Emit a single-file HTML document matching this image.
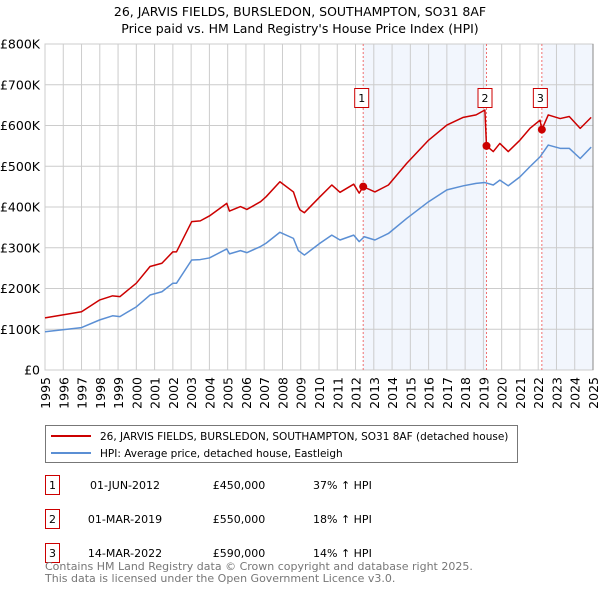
<!DOCTYPE html>
<html><head><meta charset="utf-8"><style>
body{margin:0;background:#fff;font-family:"Liberation Sans","DejaVu Sans",sans-serif;}
svg text{font-family:"DejaVu Sans","Liberation Sans",sans-serif;}
</style></head><body>
<svg id="c" width="600" height="590" viewBox="0 0 600 590">
<text x="300" y="16" text-anchor="middle" font-size="12.5">26, JARVIS FIELDS, BURSLEDON, SOUTHAMPTON, SO31 8AF</text>
<text x="300" y="33" text-anchor="middle" font-size="12.5">Price paid vs. HM Land Registry's House Price Index (HPI)</text>
<g id="plot"></g>
<g>
<rect x="45.5" y="425.5" width="472" height="37" fill="#fff" stroke="#777"/>
<line x1="51" y1="436" x2="91" y2="436" stroke="#cc0000" stroke-width="2"/>
<text x="100" y="440" font-size="10.5">26, JARVIS FIELDS, BURSLEDON, SOUTHAMPTON, SO31 8AF (detached house)</text>
<line x1="51" y1="453" x2="91" y2="453" stroke="#5b8fd4" stroke-width="2"/>
<text x="100" y="457" font-size="10.5">HPI: Average price, detached house, Eastleigh</text>
</g>
<g font-size="11">
<rect x="45.5" y="475.5" width="14" height="19" fill="#fff" stroke="#cc0000"/>
<text x="52.5" y="489" text-anchor="middle">1</text>
<text x="125" y="489" text-anchor="middle">01-JUN-2012</text>
<text x="239" y="489" text-anchor="middle">£450,000</text>
<text x="313" y="489">37% ↑ HPI</text>
<rect x="45.5" y="509.5" width="14" height="19" fill="#fff" stroke="#cc0000"/>
<text x="52.5" y="523" text-anchor="middle">2</text>
<text x="125" y="523" text-anchor="middle">01-MAR-2019</text>
<text x="239" y="523" text-anchor="middle">£550,000</text>
<text x="313" y="523">18% ↑ HPI</text>
<rect x="45.5" y="543.5" width="14" height="19" fill="#fff" stroke="#cc0000"/>
<text x="52.5" y="557" text-anchor="middle">3</text>
<text x="125" y="557" text-anchor="middle">14-MAR-2022</text>
<text x="239" y="557" text-anchor="middle">£590,000</text>
<text x="313" y="557">14% ↑ HPI</text>
</g>
<text x="45" y="570" font-size="11" fill="#777">Contains HM Land Registry data © Crown copyright and database right 2025.</text>
<text x="45" y="582" font-size="11" fill="#777">This data is licensed under the Open Government Licence v3.0.</text>
</svg>
<script>
const yTicks=[0,100,200,300,400,500,600,700,800];
const yTickLabels=["£0","£100K","£200K","£300K","£400K","£500K","£600K","£700K","£800K"];
const xTickYears=[1995,1996,1997,1998,1999,2000,2001,2002,2003,2004,2005,2006,2007,2008,2009,2010,2011,2012,2013,2014,2015,2016,2017,2018,2019,2020,2021,2022,2023,2024,2025];
const hpiYears=[1995.0,1997.0,1998.0,1998.7,1999.1,2000.0,2000.75,2001.4,2002.0,2002.2,2003.03,2003.5,2004.0,2004.95,2005.1,2005.7,2006.05,2006.8,2007.1,2007.86,2008.6,2008.87,2008.96,2009.2,2010.05,2010.7,2011.15,2011.9,2012.2,2012.48,2013.06,2013.8,2014.8,2016.0,2017.0,2017.9,2018.6,2019.08,2019.54,2019.9,2020.36,2021.0,2021.55,2022.1,2022.55,2023.2,2023.7,2024.3,2024.9];
const hpiValues=[94,104,123,133,131,155,184,192,213,213,270,271,275,297,285,293,288,303,311,338,323,293,290,282,311,331,319,331,315,327,319,335,372,413,442,452,458,460,454,466,452,474,499,523,552,544,544,519,547];
const priceYears=[1995.0,1997.0,1998.0,1998.7,1999.1,2000.0,2000.75,2001.4,2002.0,2002.2,2003.03,2003.5,2004.0,2004.95,2005.1,2005.7,2006.05,2006.8,2007.1,2007.86,2008.6,2008.87,2008.96,2009.2,2010.05,2010.7,2011.15,2011.9,2012.2,2012.42,2013.06,2013.8,2014.8,2016.0,2017.0,2017.9,2018.6,2019.08,2019.17,2019.54,2019.9,2020.36,2021.0,2021.55,2022.1,2022.2,2022.55,2023.2,2023.7,2024.3,2024.9];
const priceValues=[128,143,172,182,180,213,254,262,290,290,364,366,378,409,390,401,394,413,425,462,437,401,393,386,425,454,436,456,434,450,437,454,507,564,601,620,626,638,550,536,556,536,564,593,613,590,626,617,622,593,620];
const saleYears=[2012.42,2019.17,2022.2];
const saleValues=[450,550,590];
const saleLabels=["1","2","3"];

const NS="http://www.w3.org/2000/svg";
const X0=45,X1=593,Y0=370,Y1=44;
const xs=y=>X0+(y-1995)/(2025-1995)*(X1-X0);
const ys=v=>Y0-v/800*(Y0-Y1);
const g=document.getElementById('plot');
function mk(tag,attrs){const e=document.createElementNS(NS,tag);for(const k in attrs)e.setAttribute(k,attrs[k]);g.appendChild(e);return e;}

let r=mk('rect',{x:xs(saleYears[0]),y:Y1,width:xs(saleYears[1])-xs(saleYears[0]),height:Y0-Y1,fill:'#f2f6fd'});


r=mk('rect',{x:xs(saleYears[2]),y:Y1,width:X1-xs(saleYears[2]),height:Y0-Y1,fill:'#f2f6fd'});



yTicks.forEach((t,i)=>{
  const l=mk('line',{x1:X0,x2:X1,y1:ys(t),y2:ys(t),stroke:'#cccccc','stroke-width':1});
  
  
  const tx=mk('text',{x:40,y:ys(t)+4.5,'text-anchor':'end','font-size':12.5});
  tx.textContent=yTickLabels[i];
  
  
});
xTickYears.forEach(yr=>{
  const l=mk('line',{x1:xs(yr),x2:xs(yr),y1:Y1,y2:Y0,stroke:'#cccccc','stroke-width':1});
  
  
  const tx=mk('text',{x:0,y:0,'text-anchor':'end','font-size':12.5,transform:`translate(${xs(yr)+5},377) rotate(-90)`});
  tx.textContent=yr;
  
  
});
let fr=mk('rect',{x:X0,y:Y1,width:X1-X0,height:Y0-Y1,fill:'none',stroke:'#cccccc'});


let edge=mk('line',{x1:X1,x2:X1,y1:Y1,y2:Y0,stroke:'#888','stroke-width':1});



saleYears.forEach((yr,i)=>{
  const l=mk('line',{x1:xs(yr),x2:xs(yr),y1:Y1,y2:Y0,stroke:'#f07070','stroke-width':1,'stroke-dasharray':'2,2'});
  
  
});

const hp=mk('polyline',{points:hpiYears.map((y,i)=>xs(y)+','+ys(hpiValues[i])).join(' '),fill:'none',stroke:'#5b8fd4','stroke-width':1.5,'stroke-linejoin':'round'});


const pp=mk('polyline',{points:priceYears.map((y,i)=>xs(y)+','+ys(priceValues[i])).join(' '),fill:'none',stroke:'#cc0000','stroke-width':1.5,'stroke-linejoin':'round'});



saleYears.forEach((yr,i)=>{
  const c=mk('circle',{cx:xs(yr),cy:ys(saleValues[i]),r:4,fill:'#cc0000'});
  
  
  const b=mk('rect',{x:xs(yr)-8.5,y:88.5,width:14,height:19,fill:'#fff',stroke:'#cc0000'});
  
  
  const t=mk('text',{x:xs(yr)-1.5,y:102,'text-anchor':'middle','font-size':11});
  t.textContent=saleLabels[i];
  
  
});
</script>
</body></html>
